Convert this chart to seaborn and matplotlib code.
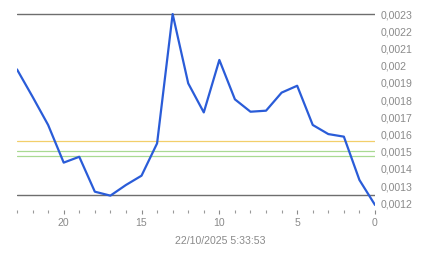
import matplotlib
matplotlib.use("Agg")
import matplotlib.pyplot as plt
import seaborn as sns
import pandas as pd
from matplotlib.ticker import FixedLocator, MultipleLocator

sns.set_style("white")
plt.rcParams['font.family'] = ['Liberation Sans', 'DejaVu Sans']

# data: minutes ago (x) and values (y)
minutes_ago = [23, 22, 21, 20, 19, 18, 17, 16, 15, 14, 13, 12,
               11, 10, 9, 8, 7, 6, 5, 4, 3, 2, 1, 0]
values = [0.001978, 0.001819, 0.001655, 0.001436, 0.001470, 0.001267,
          0.001244, 0.001306, 0.001360, 0.001548, 0.002300, 0.001897,
          0.001728, 0.002033, 0.001804, 0.001732, 0.001738, 0.001843,
          0.001883, 0.001655, 0.001602, 0.001587, 0.001335, 0.001190]
gray_lines = [0.0023, 0.001246]
yellow_lines = [0.00156]
green_lines = [0.001502, 0.001473]
y_ticks = [0.0023, 0.0022, 0.0021, 0.0020, 0.0019, 0.0018, 0.0017,
           0.0016, 0.0015, 0.0014, 0.0013, 0.0012]
y_tick_labels = ["0,0023", "0,0022", "0,0021", "0,002", "0,0019", "0,0018",
                 "0,0017", "0,0016", "0,0015", "0,0014", "0,0013", "0,0012"]
x_major = [20, 15, 10, 5, 0]
x_labels = ["20", "15", "10", "5", "0"]
timestamp = "22/10/2025 5:33:53"

df = pd.DataFrame({"ago": minutes_ago, "value": values})

fig = plt.figure(figsize=(4.43, 2.58), dpi=100)
ax = fig.add_axes([17/443, (258-210)/258, (375-17)/443, (210-10.6)/258])

for v in gray_lines:
    ax.axhline(v, color="#6e6e6e", lw=1.0, zorder=1)
for v in yellow_lines:
    ax.axhline(v, color="#f2cf6a", lw=0.9, zorder=1)
for v in green_lines:
    ax.axhline(v, color="#a9da92", lw=0.9, zorder=1)

sns.lineplot(data=df, x="ago", y="value", ax=ax, color="#2a5cd8",
             linewidth=1.6, zorder=3)

ax.set_xlim(23, 0)
ax.set_ylim(0.0011605, 0.00232)

for s in ax.spines.values():
    s.set_visible(False)

ax.yaxis.tick_right()
ax.set_yticks(y_ticks)
ax.set_yticklabels(y_tick_labels)
ax.tick_params(axis="y", length=0, pad=4, labelsize=7.6, labelcolor="#8a8a8a")

ax.xaxis.set_major_locator(FixedLocator(x_major))
ax.set_xticklabels(x_labels)
ax.xaxis.set_minor_locator(MultipleLocator(1))
ax.tick_params(axis="x", which="both", bottom=True, direction="out")
ax.tick_params(axis="x", which="major", length=3.0, width=0.8, color="#8a8a8a",
               pad=3, labelsize=7.6, labelcolor="#8a8a8a")
ax.tick_params(axis="x", which="minor", length=1.8, width=0.8, color="#9a9a9a")

ax.set_xlabel("")
ax.set_ylabel("")
fig.text(220/443, 1 - 241/258, timestamp, ha="center", va="center",
         fontsize=7.6, color="#8a8a8a")

fig.savefig("out.png", dpi=100)
